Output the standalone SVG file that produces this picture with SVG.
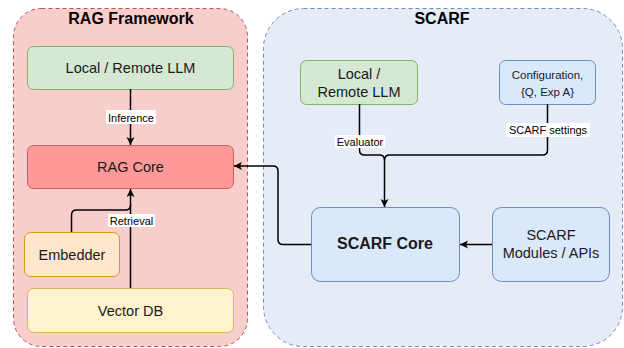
<svg xmlns="http://www.w3.org/2000/svg" width="624" height="348" viewBox="0 0 624 348">
<defs>
<style>
text{font-family:"Liberation Sans",Arial,sans-serif;fill:#1a1a1a;text-anchor:middle}
.title{font-size:16px;font-weight:bold;fill:#000}
.t{font-size:14.5px}
.s{font-size:11.5px}
.lbl{font-size:11px;fill:#000}
.b{font-size:16px;font-weight:bold}
.edge{fill:none;stroke:#000;stroke-width:1.5}
.lb{fill:#fff}
</style>
<marker id="arr" markerUnits="userSpaceOnUse" markerWidth="10" markerHeight="10" refX="8" refY="4" orient="auto">
<path d="M0,0 L8,4 L0,8 L2,4 Z" fill="#000"/>
</marker>
</defs>
<g id="rag-framework">
<rect x="13.5" y="8.5" width="234" height="338" rx="28" fill="#f8cecc" stroke="#b85450" stroke-dasharray="4 3"/>
<text class="title" x="131" y="24">RAG Framework</text>
</g>
<g id="scarf">
<rect x="263.5" y="8.5" width="359" height="338" rx="40" fill="#e5ecf7" stroke="#6c8ebf" stroke-dasharray="4 3"/>
<text class="title" x="442" y="24">SCARF</text>
</g>
<g id="rag-llm">
<rect x="27.5" y="46.5" width="206" height="43" rx="6" fill="#d5e8d4" stroke="#82b366"/>
<text class="t" x="130.5" y="73">Local / Remote LLM</text>
</g>
<g id="rag-core">
<rect x="27.5" y="145.5" width="206" height="43" rx="6" fill="#ff9999" stroke="#c96060"/>
<text class="t" x="130.5" y="172">RAG Core</text>
</g>
<g id="embedder">
<rect x="24.5" y="232.5" width="95" height="44" rx="6" fill="#ffe6cc" stroke="#d79b00"/>
<text class="t" x="72" y="260">Embedder</text>
</g>
<g id="vector-db">
<rect x="27.5" y="288.5" width="206" height="44" rx="6" fill="#fff2cc" stroke="#d6b656"/>
<text class="t" x="130.5" y="316">Vector DB</text>
</g>
<g id="scarf-llm">
<rect x="300.5" y="60.5" width="117" height="44" rx="6" fill="#d5e8d4" stroke="#82b366"/>
<text class="t" x="359" y="79">Local /</text>
<text class="t" x="359" y="97">Remote LLM</text>
</g>
<g id="configuration">
<rect x="499.5" y="60.5" width="96" height="44" rx="6" fill="#dae8fc" stroke="#6c8ebf"/>
<text class="s" x="547.5" y="79">Configuration,</text>
<text class="s" x="547.5" y="96">{Q, Exp A}</text>
</g>
<g id="scarf-core">
<rect x="311.5" y="207.5" width="148" height="74" rx="9" fill="#dae8fc" stroke="#6c8ebf"/>
<text class="b" x="385" y="249">SCARF Core</text>
</g>
<g id="scarf-modules">
<rect x="492.5" y="207.5" width="117" height="74" rx="9" fill="#dae8fc" stroke="#6c8ebf"/>
<text class="t" x="551" y="240">SCARF</text>
<text class="t" x="551" y="258">Modules / APIs</text>
</g>
<g id="connectors">
<path class="edge" d="M130.5,89 L130.5,145" marker-end="url(#arr)"/>
<path class="edge" d="M130.5,288 L130.5,189" marker-end="url(#arr)"/>
<path class="edge" d="M71.5,232 L71.5,215 Q71.5,210 76.5,210 L125.5,210 Q130.5,210 130.5,205"/>
<path class="edge" d="M359.5,104 L359.5,150 Q359.5,155 364.5,155 L379.5,155 Q384.5,155 384.5,160 L384.5,207" marker-end="url(#arr)"/>
<path class="edge" d="M547.5,104 L547.5,150 Q547.5,155 542.5,155 L389.5,155 Q384.5,155 384.5,160"/>
<path class="edge" d="M311,244.5 L283,244.5 Q278,244.5 278,239.5 L278,171 Q278,166 273,166 L234,166" marker-end="url(#arr)"/>
<path class="edge" d="M492,244.5 L460,244.5" marker-end="url(#arr)"/>
<rect class="lb" x="106" y="110" width="50" height="14"/>
<text class="lbl" x="131" y="121.5">Inference</text>
<rect class="lb" x="108" y="214" width="47" height="13"/>
<text class="lbl" x="131.5" y="225">Retrieval</text>
<rect class="lb" x="335" y="135" width="50" height="13"/>
<text class="lbl" x="360" y="146">Evaluator</text>
<rect class="lb" x="506" y="123" width="84" height="14"/>
<text class="lbl" x="548" y="134">SCARF settings</text>
</g>
</svg>
